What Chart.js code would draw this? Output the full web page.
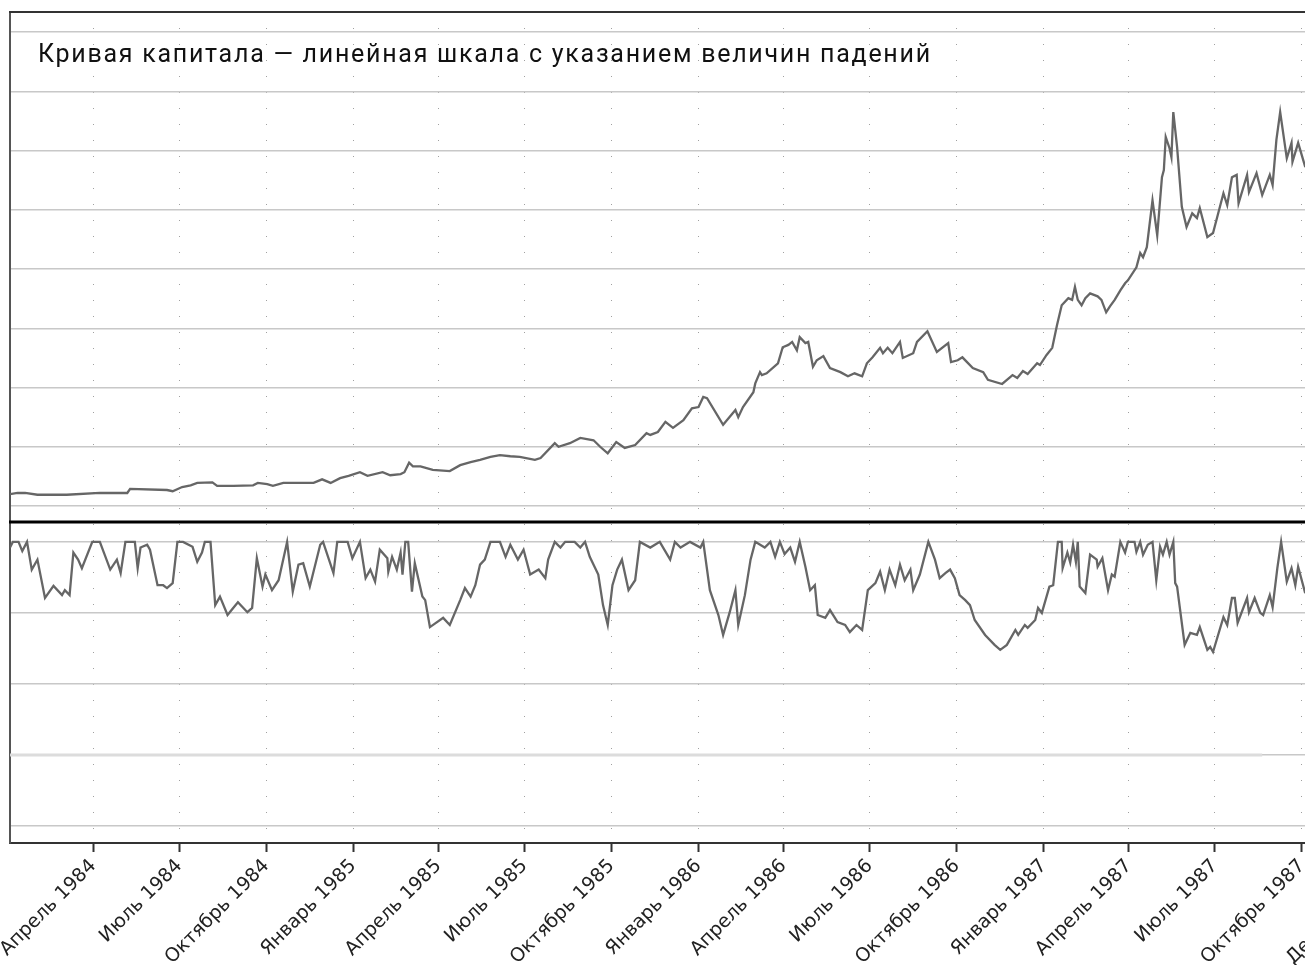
<!DOCTYPE html>
<html><head><meta charset="utf-8">
<script src="https://cdn.jsdelivr.net/npm/chart.js@4"></script>
<style>
html,body{margin:0;padding:0;width:1305px;height:965px;overflow:hidden;background:#fff;}
#wrap{position:absolute;left:-100px;top:0;width:1510px;height:965px;}
</style></head><body>
<div id="wrap"><canvas id="c" width="1510" height="965"></canvas></div>
<script>
const chartTitle = "Кривая капитала — линейная шкала с указанием величин падений";
// x positions are days since 1 Jan 1984
const tickDays = [91,182,274,366,456,547,639,731,821,912,1004,1096,1186,1277,1369,1460];
const tickLabels = ["Апрель 1984","Июль 1984","Октябрь 1984","Январь 1985","Апрель 1985","Июль 1985","Октябрь 1985","Январь 1986","Апрель 1986","Июль 1986","Октябрь 1986","Январь 1987","Апрель 1987","Июль 1987","Октябрь 1987","Декабрь 1987"];
const equityTicks = [0,10,20,30,40,50,60,70,80];
const drawdownTicks = [0,-10,-20,-30,-40];

const equityDays = [3,11,19,32,63,98,127,130,169,175,185,194,201,217,222,239,260,265,275,281,292,324,333,342,352,361,373,381,397,405,416,420,425,429,437,450,468,479,490,500,511,521,532,542,558,564,579,583,595,606,620,627,635,644,653,664,676,680,688,696,704,715,724,731,736,740,757,770,773,778,789,791,796,798,803,815,820,826,830,835,838,844,847,852,856,863,870,881,889,896,904,909,915,923,926,931,936,944,947,958,962,973,983,995,998,1005,1010,1021,1032,1037,1052,1063,1068,1074,1079,1089,1092,1099,1105,1110,1115,1122,1126,1129,1132,1136,1140,1145,1153,1157,1162,1166,1171,1177,1182,1185,1194,1198,1201,1205,1211,1216,1221,1223,1225,1229,1231,1233,1237,1242,1247,1253,1258,1261,1269,1275,1286,1290,1295,1300,1302,1311,1313,1321,1327,1335,1338,1342,1346,1353,1358,1359,1365,1372,1380];
const equityValues = [2.0,2.2,2.2,1.9,1.9,2.2,2.2,2.9,2.7,2.5,3.2,3.5,3.9,4.0,3.4,3.4,3.5,3.9,3.7,3.4,3.9,3.9,4.5,3.9,4.7,5.1,5.7,5.1,5.7,5.2,5.4,5.7,7.3,6.7,6.7,6.1,5.9,6.9,7.4,7.8,8.3,8.6,8.4,8.3,7.8,8.1,10.6,10.0,10.6,11.5,11.1,10.0,8.9,10.8,9.8,10.3,12.3,12.0,12.5,14.2,13.2,14.5,16.5,16.7,18.4,18.2,13.7,16.2,15.0,16.7,19.2,20.7,22.6,22.1,22.4,24.1,26.8,27.2,27.7,26.3,28.5,27.5,27.7,23.5,24.6,25.3,23.3,22.6,21.9,22.4,21.9,24.1,25.1,26.7,25.8,26.7,25.8,27.7,25.0,25.8,27.7,29.5,26.0,27.5,24.3,24.6,25.1,23.3,22.6,21.3,20.6,22.1,21.6,22.8,22.3,24.1,23.8,25.5,26.7,30.5,33.9,35.1,34.8,37.0,34.8,33.9,35.1,35.9,35.4,34.8,32.7,33.7,34.8,36.4,37.6,38.1,40.3,42.7,42.0,43.7,51.6,45.7,55.5,56.7,62.3,60.4,58.9,66.5,60.6,50.5,47.1,49.4,48.6,50.3,45.4,46.1,52.8,50.8,55.5,55.9,51.1,55.9,53.0,56.2,52.5,55.9,54.2,61.8,66.5,58.7,61.3,58.1,61.3,57.5,59.0];

const drawdownDays = [3,6,12,16,21,26,32,40,49,58,61,66,70,75,79,90,98,109,116,120,125,135,138,141,148,151,159,165,169,175,180,186,196,201,206,209,215,220,225,233,239,244,254,259,264,270,273,280,287,296,302,308,313,320,331,334,345,349,360,365,373,379,384,389,394,402,403,407,412,416,418,421,424,428,431,439,442,447,461,468,479,484,490,495,500,505,511,521,527,532,540,546,553,562,569,572,579,585,590,600,606,611,616,625,630,635,640,645,650,657,664,669,680,690,701,706,712,722,733,736,743,752,757,764,770,773,780,786,791,801,807,812,817,822,828,833,838,844,849,854,857,865,870,878,886,891,898,904,910,918,923,928,933,939,944,949,955,958,965,974,981,986,992,997,1002,1007,1013,1018,1023,1034,1044,1050,1057,1066,1069,1076,1079,1087,1090,1094,1102,1106,1111,1115,1116,1121,1124,1127,1130,1132,1134,1140,1145,1152,1153,1158,1164,1168,1171,1177,1182,1185,1192,1194,1198,1201,1206,1211,1215,1219,1222,1226,1229,1233,1235,1237,1245,1251,1258,1261,1269,1272,1275,1286,1290,1295,1298,1301,1311,1313,1319,1325,1328,1335,1338,1343,1347,1353,1358,1362,1365,1372,1380];
const drawdownValues = [-0.8,0,0,-1.3,0,-3.9,-2.5,-7.9,-6.2,-7.5,-6.8,-7.5,-1.5,-2.5,-3.7,0,0,-3.9,-2.5,-4.4,0,0,-3.7,-0.8,-0.4,-1.1,-6.1,-6.1,-6.5,-5.8,0,0,-0.7,-2.8,-1.5,0,0,-8.9,-7.7,-10.3,-9.3,-8.5,-9.9,-9.3,-2.3,-6.3,-4.6,-6.8,-5.4,0,-7.0,-3.2,-3.0,-6.3,-0.4,0,-4.4,0,0,-2.3,0,-5.1,-3.9,-5.6,-1.1,-2.3,-4.2,-2.1,-3.9,-1.5,-4.6,0,0,-7.0,-3.0,-7.7,-8.2,-12.0,-10.7,-11.7,-8.2,-6.5,-7.7,-6.1,-3.2,-2.5,0,0,-2.1,-0.4,-2.5,-1.1,-4.6,-3.9,-5.1,-2.5,0,-0.8,0,0,-0.8,0,-2.1,-4.6,-8.9,-11.7,-6.1,-3.9,-2.5,-6.8,-5.4,0,-0.8,0,-2.5,0,-0.8,0,-0.8,0,-6.8,-10.3,-13.1,-9.9,-6.8,-11.7,-7.5,-2.5,0,-0.8,0,-2.1,0,-1.7,-0.8,-2.8,0,-3.5,-6.8,-6.1,-10.3,-10.7,-9.6,-11.3,-11.7,-12.7,-11.7,-12.4,-6.8,-5.8,-4.2,-6.8,-3.9,-6.1,-3.2,-5.4,-3.9,-6.8,-4.6,0,-2.5,-5.1,-4.4,-3.9,-5.1,-7.5,-8.2,-8.9,-11.0,-13.1,-14.5,-15.2,-14.5,-12.4,-13.1,-11.7,-12.1,-11.0,-9.3,-10.0,-6.3,-6.1,0,0,-3.7,-1.5,-2.9,-0.4,-2.8,0,-6.3,-7.2,-1.8,-2.5,-3.5,-2.3,-6.8,-4.6,-4.9,0,-1.5,0,0,-1.4,0,-1.8,-0.4,0,-5.4,-0.7,-1.8,0,-1.8,0,-5.8,-6.3,-14.5,-12.8,-13.1,-12.0,-15.2,-14.8,-15.5,-10.6,-11.7,-7.9,-7.9,-11.4,-7.9,-9.9,-7.9,-10.0,-10.3,-7.5,-9.2,-3.7,0,-5.6,-3.7,-6.1,-3.5,-7.0,-6.0];

const refDays = [3,1327];
const refValues = [-30,-30];

const toXY = (xs, ys) => xs.map((x, i) => ({x: x, y: ys[i]}));

const framePlugin = {
  id: 'frame',
  afterDraw(chart) {
    const ctx = chart.ctx, a = chart.chartArea, yEq = chart.scales.yEq;
    ctx.save();
    ctx.strokeStyle = '#333'; ctx.lineWidth = 2;
    ctx.beginPath(); ctx.moveTo(a.left - 1, a.top); ctx.lineTo(a.right, a.top); ctx.stroke();
    ctx.strokeStyle = '#000'; ctx.lineWidth = 3;
    ctx.beginPath(); ctx.moveTo(a.left - 1, yEq.bottom); ctx.lineTo(a.right, yEq.bottom); ctx.stroke();
    // title
    ctx.font = '25px Roboto';
    ctx.fillStyle = '#111';
    ctx.textBaseline = 'alphabetic';
    const w0 = ctx.measureText(chartTitle).width;
    const target = 892;
    if ('letterSpacing' in ctx) ctx.letterSpacing = Math.max(0, (target - w0) / (chartTitle.length - 1)).toFixed(2) + 'px';
    ctx.fillText(chartTitle, a.left + 28, a.top + 50);
    ctx.restore();
  }
};

new Chart(document.getElementById('c'), {
  type: 'line',
  data: { datasets: [
    { data: toXY(refDays, refValues), yAxisID: 'yDd', borderColor: '#dcdcdc', borderWidth: 3, pointRadius: 0 },
    { data: toXY(equityDays, equityValues), yAxisID: 'yEq', borderColor: '#666', borderWidth: 2.3, pointRadius: 0, tension: 0 },
    { data: toXY(drawdownDays, drawdownValues), yAxisID: 'yDd', borderColor: '#666', borderWidth: 2.3, pointRadius: 0, tension: 0 }
  ]},
  options: {
    responsive: false, animation: false, devicePixelRatio: 1,
    layout: { padding: { top: 12, right: 22, left: 0, bottom: 0 } },
    plugins: { legend: { display: false }, tooltip: { enabled: false } },
    scales: {
      x: {
        type: 'linear', min: 3, max: 1460,
        afterBuildTicks: s => { s.ticks = tickDays.map(v => ({ value: v })); },
        afterFit: s => { s.height = 122; },
        ticks: {
          autoSkip: false, maxRotation: 45, minRotation: 45, padding: 3,
          callback: v => tickLabels[tickDays.indexOf(v)],
          font: { family: 'DejaVu Sans', size: 19 }, color: '#222'
        },
        grid: { color: '#a0a0a0', lineWidth: 1, drawTicks: true, tickLength: 9, tickColor: '#333', tickWidth: 2, tickBorderDash: [] },
        border: { display: true, color: '#333', width: 2, dash: [1, 15] }
      },
      yEq: {
        type: 'linear', position: 'left', stack: 'panels', stackWeight: 510, weight: 1,
        min: -2.7, max: 83.4,
        afterBuildTicks: s => { s.ticks = equityTicks.map(v => ({ value: v })); },
        afterFit: s => { s.width = 110; },
        ticks: { display: false },
        grid: { color: '#c8c8c8', lineWidth: 1.5, drawTicks: false },
        border: { display: true, color: '#555', width: 2 }
      },
      yDd: {
        type: 'linear', position: 'left', stack: 'panels', stackWeight: 321, weight: 0,
        min: -42.4, max: 2.8,
        afterBuildTicks: s => { s.ticks = drawdownTicks.map(v => ({ value: v })); },
        afterFit: s => { s.width = 110; },
        ticks: { display: false },
        grid: { color: '#c8c8c8', lineWidth: 1.5, drawTicks: false },
        border: { display: true, color: '#555', width: 2 }
      }
    }
  },
  plugins: [framePlugin]
});
</script>
</body></html>
